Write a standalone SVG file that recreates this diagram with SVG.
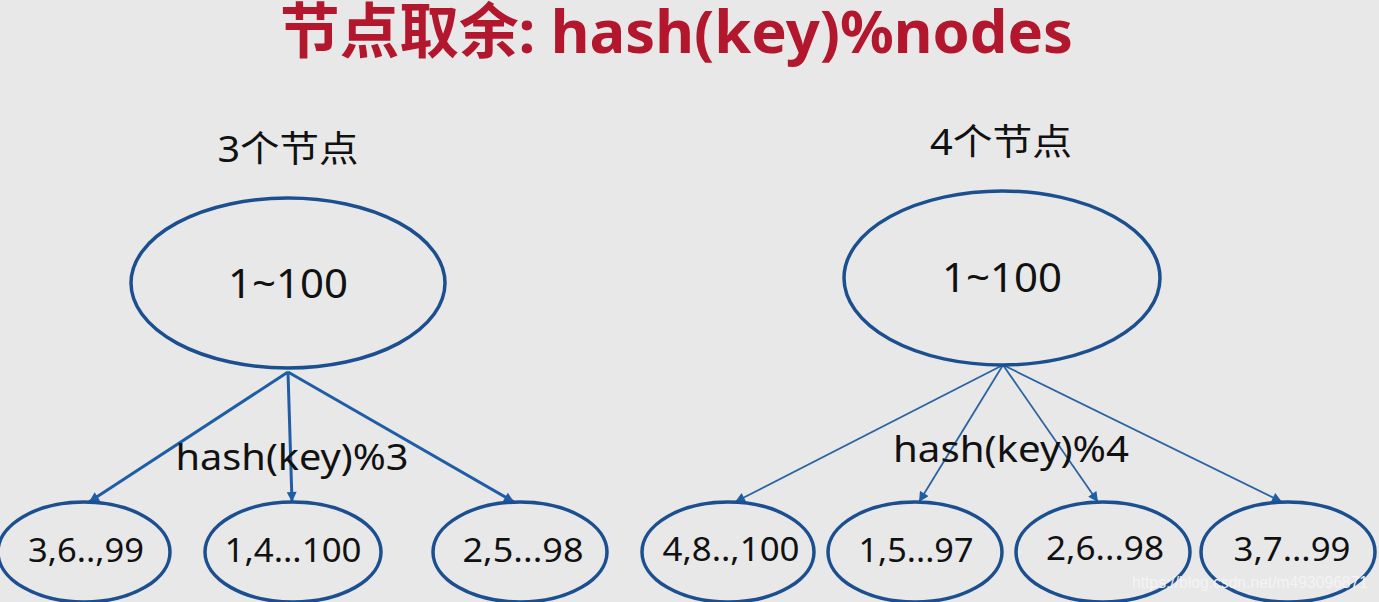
<svg xmlns="http://www.w3.org/2000/svg" width="1379" height="602" viewBox="0 0 1379 602">
<style>
.bg{fill:#e8e8e8}
.title{font-family:"Noto Sans","Noto Sans CJK SC",sans-serif;font-weight:bold;font-size:60px;fill:#b3172e}
.lbl{font-family:"Noto Sans","Noto Sans CJK SC",sans-serif;fill:#111;text-anchor:middle}
.big{font-size:40px}
.small{font-size:33px}
.head{font-size:36px}
.node{fill:none;stroke:#1c4f8f;stroke-width:3.5}
.c3{stroke:#1f5ea6;stroke-width:3;fill:none}
.c4{stroke:#2a64a3;stroke-width:1.8;fill:none}
.wm{font-family:"Liberation Sans",sans-serif;font-size:17px;fill:#f4f4f4}
</style>
<defs>
<marker id="ah" viewBox="0 0 10 10" refX="10" refY="5" markerWidth="11" markerHeight="10" markerUnits="userSpaceOnUse" orient="auto">
<path d="M0,0 L10,5 L0,10 z" fill="#1f5ea6"/>
</marker>
</defs>
<rect class="bg" x="0" y="0" width="1379" height="602"/>
<text class="title" x="280" y="53" textLength="793" lengthAdjust="spacingAndGlyphs">节点取余: hash(key)%nodes</text>

<g id="connectors">
<line class="c3" x1="288" y1="372" x2="89" y2="502" marker-end="url(#ah)"/>
<line class="c3" x1="288" y1="372" x2="292" y2="502" marker-end="url(#ah)"/>
<line class="c3" x1="288" y1="372" x2="514" y2="502" marker-end="url(#ah)"/>
<line class="c4" x1="1003" y1="365" x2="735" y2="502" marker-end="url(#ah)"/>
<line class="c4" x1="1003" y1="365" x2="919" y2="502" marker-end="url(#ah)"/>
<line class="c4" x1="1003" y1="365" x2="1098" y2="502" marker-end="url(#ah)"/>
<line class="c4" x1="1003" y1="365" x2="1282" y2="502" marker-end="url(#ah)"/>
<text class="lbl" x="292" y="470" style="font-size:37px" textLength="233" lengthAdjust="spacingAndGlyphs">hash(key)%3</text>
<text class="lbl" x="1011" y="462" style="font-size:37px" textLength="236" lengthAdjust="spacingAndGlyphs">hash(key)%4</text>
</g>

<g id="left-group">
<text class="lbl head" x="288" y="162" textLength="141" lengthAdjust="spacingAndGlyphs">3个节点</text>
</g>
<g id="right-group">
<text class="lbl head" x="1001" y="155" textLength="142" lengthAdjust="spacingAndGlyphs">4个节点</text>
</g>

<g id="root3">
<ellipse class="node" cx="288" cy="283" rx="157" ry="85"/>
<text class="lbl big" x="288" y="298" textLength="120" lengthAdjust="spacingAndGlyphs">1~100</text>
</g>
<g id="root4">
<ellipse class="node" cx="1002" cy="278" rx="158" ry="87"/>
<text class="lbl big" x="1002" y="292" textLength="120" lengthAdjust="spacingAndGlyphs">1~100</text>
</g>

<g id="n3a">
<ellipse class="node" cx="84" cy="552" rx="86" ry="50"/>
<text class="lbl small" x="86" y="562" textLength="116" lengthAdjust="spacingAndGlyphs">3,6..,99</text>
</g>
<g id="n3b">
<ellipse class="node" cx="293" cy="552" rx="88" ry="50"/>
<text class="lbl small" x="293" y="562" textLength="137" lengthAdjust="spacingAndGlyphs">1,4...100</text>
</g>
<g id="n3c">
<ellipse class="node" cx="520" cy="552" rx="87" ry="50"/>
<text class="lbl small" x="523" y="562" textLength="121" lengthAdjust="spacingAndGlyphs">2,5...98</text>
</g>

<g id="n4a">
<ellipse class="node" cx="728" cy="552" rx="86" ry="50"/>
<text class="lbl small" x="731" y="561" textLength="137" lengthAdjust="spacingAndGlyphs">4,8..,100</text>
</g>
<g id="n4b">
<ellipse class="node" cx="915" cy="552" rx="87" ry="50"/>
<text class="lbl small" x="916" y="562" textLength="115" lengthAdjust="spacingAndGlyphs">1,5...97</text>
</g>
<g id="n4c">
<ellipse class="node" cx="1103" cy="552" rx="87" ry="50"/>
<text class="lbl small" x="1105" y="560" textLength="118" lengthAdjust="spacingAndGlyphs">2,6...98</text>
</g>
<g id="n4d">
<ellipse class="node" cx="1288" cy="552" rx="87" ry="50"/>
<text class="lbl small" x="1292" y="561" textLength="117" lengthAdjust="spacingAndGlyphs">3,7...99</text>
</g>

<text class="wm" x="1132" y="588" textLength="236" lengthAdjust="spacingAndGlyphs">https://blog.csdn.net/m493096871</text>
</svg>
